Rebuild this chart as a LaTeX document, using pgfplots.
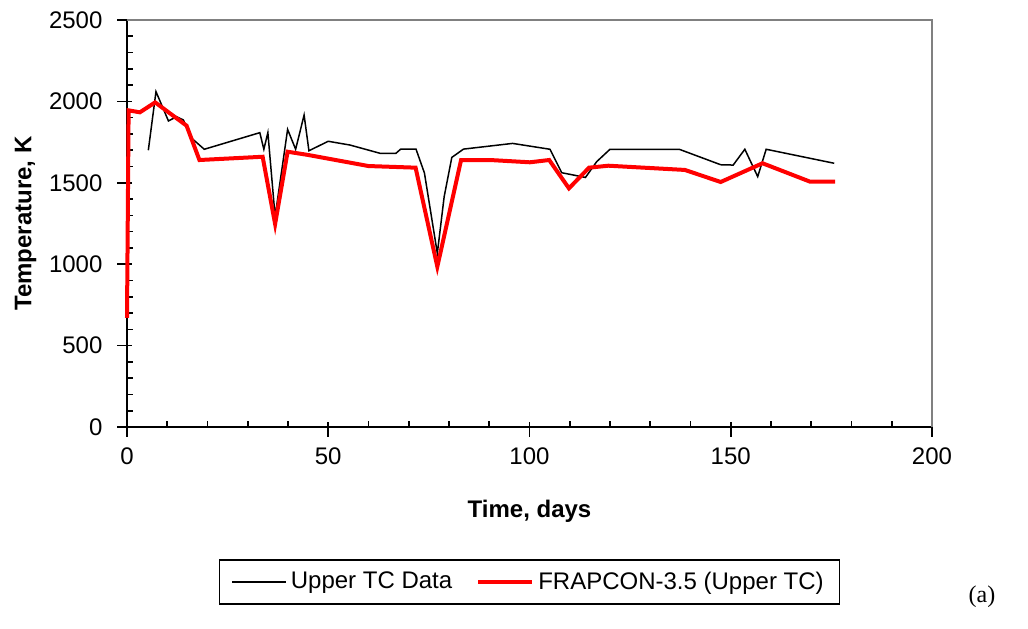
\documentclass[border=0pt]{standalone}
\usepackage{pgfplots}
\pgfplotsset{compat=1.18}
\usepackage{fontspec}
\setmainfont{Liberation Sans}
\newfontfamily\seriffont{Liberation Serif}

\begin{document}
\begin{tikzpicture}
\begin{axis}[
    scale only axis,
    width=402.5pt, height=203.5pt,
    xmin=0, xmax=200, ymin=0, ymax=2500,
    axis x line*=bottom, axis y line*=left,
    axis line style={black, line width=0.8pt},
    xtick={0,50,...,200}, ytick={0,500,...,2500},
    minor x tick num=4, minor y tick num=4,
    tick align=center,
    major tick length=7.5pt, minor tick length=3.2pt,
    tick style={black, line width=0.8pt},
    every minor x tick/.append style={yshift=1.6pt},
    every minor y tick/.append style={xshift=1.6pt},
    every major x tick/.append style={yshift=-1.2pt},
    every major y tick/.append style={xshift=-1.2pt},
    /pgf/number format/assume math mode=true,
    /pgf/number format/1000 sep={},
    tick label style={font=\fontsize{12}{14}\selectfont},
    xticklabel style={yshift=-3pt},
    yticklabel style={xshift=-5pt},
    xlabel={\textbf{Time, days}},
    ylabel={\textbf{Temperature, K}},
    label style={font=\fontsize{12}{14}\selectfont},
    xlabel style={yshift=-11pt},
    ylabel style={yshift=-0.5pt},
    legend columns=2,
    legend style={at={(0.5,-0.381)}, anchor=center, draw=black, line width=0.8pt,
        font=\fontsize{12}{14}\selectfont, inner xsep=6pt, inner ysep=4pt,
        /tikz/every even column/.append style={column sep=10pt}},
    legend image code/.code={\draw[#1] (0cm,0cm) -- (0.95cm,0cm);},
    clip=false,
]
\addplot[black, line width=0.75pt] coordinates {
(5.3,1700) (7.2,2060) (10.3,1880) (12.3,1906) (14,1886) (16.1,1773) (19.2,1706)
(33,1808) (34,1706) (35,1808) (36.8,1292) (39.9,1828) (41.9,1706) (44,1916)
(45.2,1697) (50,1755) (55.4,1732) (62.9,1681) (66.8,1681) (68,1707) (71.8,1707)
(73.9,1560) (77.1,1067) (78.8,1415) (80.7,1656) (83.6,1707) (95.8,1742)
(105.1,1706) (108,1562) (113.9,1533) (116.7,1630) (120,1706) (137.2,1706)
(147.5,1611) (150.6,1609) (153.5,1706) (156.7,1538) (158.8,1706) (175.7,1620)
};
\addlegendentry{Upper TC Data}
\addplot[red, line width=2pt] coordinates {
(0,670) (0.4,1945) (3.2,1933) (7,1994) (14.8,1851) (18,1640) (33.7,1660)
(36.8,1247) (39.9,1691) (45,1671) (60,1603) (71.7,1593) (77.1,985) (83,1640)
(90.2,1640) (100.1,1626) (104.9,1640) (109.8,1466) (114.8,1593) (119.6,1605)
(138.6,1579) (147.5,1505) (157.9,1620) (169.7,1507) (175.9,1507)
};
\addlegendentry{FRAPCON-3.5 (Upper TC)}
\draw[gray, line width=0.6pt] (rel axis cs:0,1) -- (rel axis cs:1,1) -- (rel axis cs:1,0);
\coordinate (o) at (rel axis cs:0,0);
\end{axis}
\node[font=\seriffont\fontsize{12}{14}\selectfont] at ([shift={(427.5pt,-85pt)}]o) {(a)};
\path[use as bounding box] ([shift={(-63.5pt,-100.5pt)}]o) rectangle ++(514pt,314pt);
\end{tikzpicture}
\end{document}
